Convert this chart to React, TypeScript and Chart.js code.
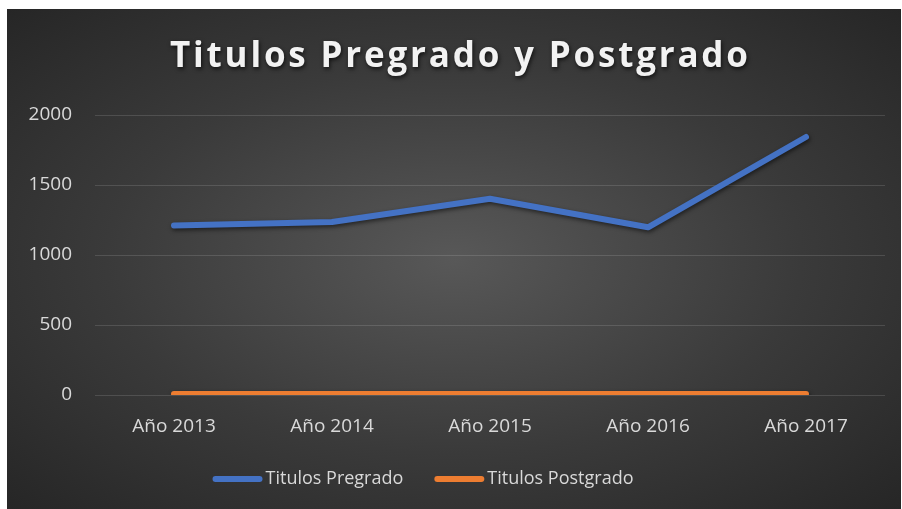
import React, { useEffect, useRef } from "react";
import { Chart, registerables } from "chart.js";

Chart.register(...registerables);

const TITLE = "Titulos Pregrado y Postgrado";
const categories = ["Año 2013", "Año 2014", "Año 2015", "Año 2016", "Año 2017"];
const pregrado = [1211, 1236, 1402, 1198, 1843];
const postgrado = [8, 8, 8, 8, 8];
const seriesNames = ["Titulos Pregrado", "Titulos Postgrado"];
const seriesColors = ["#4472C4", "#ED7D31"];
const yTicks = [0, 500, 1000, 1500, 2000];

const FONT = "'Open Sans', 'DejaVu Sans', sans-serif";

const titlePlugin = {
  id: "customTitle",
  afterDraw(chart: any) {
    const ctx = chart.ctx as CanvasRenderingContext2D;
    ctx.save();
    ctx.font = `bold 35px ${FONT}`;
    (ctx as any).letterSpacing = "0px";
    const w0 = ctx.measureText(TITLE).width;
    const target = 578;
    const sp = Math.max(0, (target - w0) / (TITLE.length - 1));
    (ctx as any).letterSpacing = `${sp}px`;
    ctx.textAlign = "left";
    ctx.textBaseline = "middle";
    ctx.fillStyle = "#f2f2f2";
    ctx.shadowColor = "rgba(0,0,0,0.7)";
    ctx.shadowBlur = 4;
    ctx.shadowOffsetX = 1;
    ctx.shadowOffsetY = 2;
    ctx.fillText(TITLE, 452 - target / 2, 48);
    ctx.restore();
  },
};

const legendPlugin = {
  id: "customLegend",
  afterDraw(chart: any) {
    const ctx = chart.ctx as CanvasRenderingContext2D;
    ctx.save();
    ctx.font = `18px ${FONT}`;
    const lineW = 50;
    const gapText = 3;
    const gapItem = 31;
    const names = chart.data.datasets.map((d: any) => d.label as string);
    const widths = names.map((n: string) => ctx.measureText(n).width);
    const total = widths.reduce((a: number, w: number) => a + lineW + gapText + w, 0) + gapItem * (names.length - 1);
    let x = 416 - total / 2;
    const y = 470;
    names.forEach((n: string, i: number) => {
      const ds = chart.data.datasets[i];
      ctx.strokeStyle = ds.borderColor;
      ctx.lineWidth = 6;
      ctx.lineCap = "round";
      ctx.beginPath();
      ctx.moveTo(x + 3, y);
      ctx.lineTo(x + lineW - 3, y);
      ctx.stroke();
      x += lineW + gapText;
      ctx.fillStyle = "#d9d9d9";
      ctx.textAlign = "left";
      ctx.textBaseline = "middle";
      ctx.fillText(n, x, y);
      x += widths[i] + gapItem;
    });
    ctx.restore();
  },
};

const shadowPlugin = {
  id: "lineShadow",
  beforeDatasetsDraw(chart: any) {
    const ctx = chart.ctx as CanvasRenderingContext2D;
    ctx.save();
    ctx.shadowColor = "rgba(0,0,0,0.55)";
    ctx.shadowBlur = 4;
    ctx.shadowOffsetX = 1;
    ctx.shadowOffsetY = 2;
  },
  afterDatasetsDraw(chart: any) {
    chart.ctx.restore();
  },
};

export default function App() {
  const ref = useRef<HTMLCanvasElement>(null);
  useEffect(() => {
    if (!ref.current) return;
    const chart = new Chart(ref.current, {
      type: "line",
      data: {
        labels: categories,
        datasets: [pregrado, postgrado].map((data, i) => ({
          label: seriesNames[i],
          data,
          borderColor: seriesColors[i],
          backgroundColor: seriesColors[i],
          borderWidth: 6,
          borderCapStyle: "round",
          borderJoinStyle: "round",
          pointRadius: 0,
          tension: 0,
        })),
      },
      options: {
        responsive: false,
        animation: false,
        layout: { padding: { top: 106, right: 16, bottom: 49, left: 0 } },
        plugins: {
          title: { display: false },
          tooltip: { enabled: false },
          legend: { display: false },
        },
        scales: {
          x: {
            offset: true,
            grid: { display: false, drawTicks: false },
            border: { display: false },
            ticks: { color: "#d9d9d9", font: { family: FONT, size: 19 }, padding: 20, maxRotation: 0 },
            afterFit: (s: any) => {
              s.height = 65;
            },
          },
          y: {
            min: 0,
            max: 2000,
            afterBuildTicks: (s: any) => {
              s.ticks = yTicks.map((v) => ({ value: v }));
            },
            grid: { color: "rgba(255,255,255,0.13)", lineWidth: 1, drawTicks: false },
            border: { display: false },
            ticks: {
              color: "#d9d9d9",
              font: { family: FONT, size: 19 },
              padding: 23,
              callback: (v: any) => String(v),
            },
            afterFit: (s: any) => {
              s.width = 88;
            },
          },
        },
      },
      plugins: [shadowPlugin, titlePlugin, legendPlugin],
    });
    return () => chart.destroy();
  }, []);

  return (
    <div style={{ position: "fixed", left: 0, top: 0, width: 902, height: 509, background: "#ffffff" }}>
      <div
        style={{
          position: "absolute",
          left: 7,
          top: 9,
          width: 894,
          height: 500,
          background: "radial-gradient(ellipse at 50% 50%, #585858 0%, #3a3a3a 55%, #262626 100%)",
        }}
      >
        <canvas ref={ref} width={894} height={500} style={{ display: "block" }} />
      </div>
    </div>
  );
}
